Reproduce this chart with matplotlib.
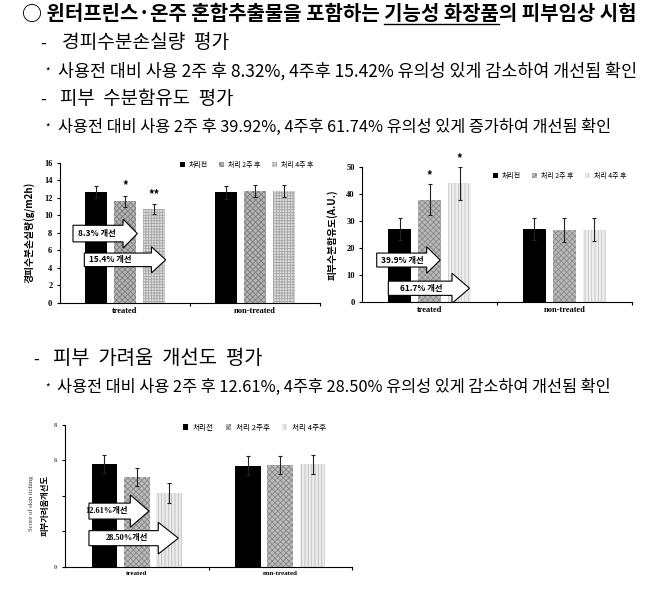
import matplotlib
matplotlib.use("Agg")
import matplotlib.pyplot as plt
from matplotlib.patches import Patch

plt.rcParams['font.family'] = ['Noto Sans CJK KR', 'DejaVu Sans']
plt.rcParams['hatch.linewidth'] = 0.6

# ---- data ----
categories = ['treated', 'non-treated']
series_labels = ['처리전', '처리 2주 후', '처리 4주 후']
series_labels_itch = ['처리전', '처리 2주후', '처리 4주후']

# transepidermal water loss (g/m2h)
tewl_before = [12.65, 12.60]
tewl_before_err = [0.65, 0.70]
tewl_2w = [11.60, 12.75]
tewl_2w_err = [0.65, 0.70]
tewl_4w = [10.70, 12.75]
tewl_4w_err = [0.55, 0.65]
tewl_stars = ['', '*', '**']
tewl_notes = ['8.3% 개선', '15.4% 개선']

# skin moisture (A.U.)
moist_before = [27.1, 27.1]
moist_before_err = [4.1, 4.2]
moist_2w = [38.0, 26.8]
moist_2w_err = [5.7, 4.5]
moist_4w = [44.0, 26.8]
moist_4w_err = [6.0, 4.3]
moist_stars = ['', '*', '*']
moist_notes = ['39.9% 개선', '61.7% 개선']

# skin itching score
itch_before = [5.80, 5.70]
itch_before_err = [0.50, 0.55]
itch_2w = [5.06, 5.75]
itch_2w_err = [0.50, 0.50]
itch_4w = [4.15, 5.78]
itch_4w_err = [0.55, 0.52]
itch_notes = ['12.61%개선', '28.50%개선']

title = '○ 윈터프린스·온주 혼합추출물을 포함하는 기능성 화장품의 피부임상 시험'
title_prefix = '○ 윈터프린스·온주 혼합추출물을 포함하는 '
title_under = '기능성 화장품'
heading_tewl = '경피수분손실량  평가'
note_tewl = '사용전 대비 사용 2주 후 8.32%, 4주후 15.42% 유의성 있게 감소하여 개선됨 확인'
heading_moist = '피부  수분함유도  평가'
note_moist = '사용전 대비 사용 2주 후 39.92%, 4주후 61.74% 유의성 있게 증가하여 개선됨 확인'
heading_itch = '피부  가려움  개선도  평가'
note_itch = '사용전 대비 사용 2주 후 12.61%, 4주후 28.50% 유의성 있게 감소하여 개선됨 확인'

W, H = 658, 590
fig = plt.figure(figsize=(W / 100, H / 100), dpi=100)
renderer = fig.canvas.get_renderer()


def text_width(s, **kw):
    t = fig.text(0, 0, s, **kw)
    w = t.get_window_extent(renderer).width
    t.remove()
    return w


def fit_line(x0, x1, y, s, **kw):
    """put a text line so it spans x0..x1 pixels"""
    size = 10 * (x1 - x0) / text_width(s, fontsize=10, **kw)
    fig.text(x0 / W, 1 - y / H, s, fontsize=size, va='center', ha='left', **kw)
    return size


def add_ax(left, top, right, bottom):
    return fig.add_axes([left / W, 1 - bottom / H, (right - left) / W, (bottom - top) / H])


# ---- header text ----
tsize = fit_line(22, 636, 14, title, fontweight='bold')
w_all = text_width(title_prefix + title_under, fontsize=tsize, fontweight='bold')
w_under = text_width(title_under, fontsize=tsize, fontweight='bold')
u0 = 22 + w_all - w_under
fig.add_artist(plt.Line2D([u0 / W, (22 + w_all) / W], [1 - 24 / H] * 2, color='black', lw=1.0))

for dash_x, x0, x1, y, s in [(40, 62, 229, 43, heading_tewl),
                             (40, 60, 233, 99, heading_moist),
                             (33, 53, 262, 359, heading_itch)]:
    fig.text(dash_x / W, 1 - y / H, '-', fontsize=12, va='center', ha='left')
    fit_line(x0, x1, y, s, fontweight='medium')

for x0, x1, y, s in [(58, 636, 71, note_tewl),
                     (58, 612, 127, note_moist),
                     (57, 612, 387, note_itch)]:
    fig.text(45 / W, 1 - (y + 1) / H, '*', fontsize=7, va='center', ha='left')
    fit_line(x0, x1, y, s)


# ---- bar charts ----
serif = ['Liberation Serif', 'Noto Sans CJK KR']


def bar_chart(ax, series, errs, styles, ymax, yticks, ytick_labels, labels,
              bar_w, step, legend_anchor, legend_size):
    xs = [0.5, 1.5]
    for i, (vals, err, (fc, hc, hatch)) in enumerate(zip(series, errs, styles)):
        pos = [x + (i - 1) * step for x in xs]
        ax.bar(pos, vals, width=bar_w, color=fc, edgecolor=hc, linewidth=0,
               hatch=hatch, zorder=2)
        ax.errorbar(pos, vals, yerr=err, fmt='none', ecolor='#222222',
                    elinewidth=0.8, capsize=1.6, capthick=0.8, zorder=3)
    ax.set_xlim(0, 2)
    ax.set_ylim(0, ymax)
    ax.spines[['top', 'right']].set_visible(False)
    ax.spines[['left', 'bottom']].set_linewidth(0.8)
    ax.set_yticks(yticks, ytick_labels)
    ax.set_xticks(xs, categories)
    ax.set_xticks([1, 2], minor=True)
    ax.tick_params(axis='x', which='major', length=0, pad=3)
    ax.tick_params(axis='x', which='minor', length=2.5, width=0.8)
    ax.tick_params(axis='y', length=2.5, width=0.8, pad=3)
    for lab in ax.get_xticklabels() + ax.get_yticklabels():
        lab.set_fontfamily(serif)
        lab.set_fontweight('bold')
        lab.set_fontsize(6)
    handles = [Patch(facecolor=fc, edgecolor=hc, linewidth=0, hatch=h) for fc, hc, h in styles]
    ax.legend(handles, labels, loc='upper right', bbox_to_anchor=legend_anchor,
              ncol=3, frameon=False, fontsize=legend_size, handlelength=0.7,
              handleheight=0.7, handletextpad=0.6, columnspacing=1.6,
              borderaxespad=0)


def improvement_arrow(ax, x0, x1, yc, body, head, head_len, label, text_x, **kw):
    ax.arrow(x0, yc, x1 - x0, 0, width=body, head_width=head, head_length=head_len,
             length_includes_head=True, fc='white', ec='black', lw=0.8, zorder=5)
    ax.text(text_x, yc, label, ha='center', va='center', fontsize=6,
            fontweight='bold', zorder=6, **kw)


# chart 1: TEWL
ax1 = add_ax(60, 162.7, 320, 302.7)
styles1 = [('black', 'black', None), ('#b5b5b5', '#7c7c7c', 'xxxxxx'),
           ('#dedede', '#a6a6a6', '++++++')]
bar_chart(ax1, [tewl_before, tewl_2w, tewl_4w], [tewl_before_err, tewl_2w_err, tewl_4w_err],
          styles1, 16, range(0, 17, 2), [str(v) for v in range(0, 17, 2)],
          series_labels, 0.17, 0.223, (0.985, 1.03), 5)
for i, (vals, err) in enumerate([(tewl_2w, tewl_2w_err), (tewl_4w, tewl_4w_err)]):
    ax1.text(0.5 + i * 0.223, vals[0] + err[0] + 0.35, tewl_stars[i + 1], ha='center',
             va='bottom', fontsize=8, fontweight='bold')
improvement_arrow(ax1, 0.10, 0.595, 7.9, 1.9, 3.3, 0.11, tewl_notes[0], 0.28)
improvement_arrow(ax1, 0.187, 0.813, 4.9, 1.55, 3.0, 0.11, tewl_notes[1], 0.385)
ax1.set_ylabel('경피수분손실량(g/m2h)', fontsize=7, fontweight='bold', labelpad=6)

# chart 2: moisture
ax2 = add_ax(362.3, 167.3, 631.7, 301.7)
styles2 = [('black', 'black', None), ('#b9b9b9', '#8a8a8a', 'xxxxxx'),
           ('#eeeeee', '#c4c4c4', '|||||')]
bar_chart(ax2, [moist_before, moist_2w, moist_4w], [moist_before_err, moist_2w_err, moist_4w_err],
          styles2, 50, range(0, 51, 10), [str(v) for v in range(0, 51, 10)],
          series_labels, 0.17, 0.222, (0.99, 0.985), 5)
for i, (vals, err) in enumerate([(moist_2w, moist_2w_err), (moist_4w, moist_4w_err)]):
    ax2.text(0.5 + i * 0.222, vals[0] + err[0] + 0.8, moist_stars[i + 1], ha='center',
             va='bottom', fontsize=8, fontweight='bold', clip_on=False)
improvement_arrow(ax2, 0.107, 0.578, 15.5, 5.2, 9.9, 0.10, moist_notes[0], 0.30)
improvement_arrow(ax2, 0.193, 0.796, 5.0, 5.3, 11.2, 0.13, moist_notes[1], 0.44)
ax2.set_ylabel('피부수분함유도(A.U.)', fontsize=7, fontweight='bold', labelpad=6)

# chart 3: itching
ax3 = add_ax(65, 425, 352, 566.7)
styles3 = [('black', 'black', None), ('#bdbdbd', '#858585', 'xxxxxx'),
           ('#ebebeb', '#bdbdbd', '|||||')]
bar_chart(ax3, [itch_before, itch_2w, itch_4w], [itch_before_err, itch_2w_err, itch_4w_err],
          styles3, 8, [0, 2, 4, 6, 8], ['0', '', '', '6', '8'],
          series_labels_itch, 0.178, 0.225, (0.92, 1.03), 5.5)
for lab in ax3.get_yticklabels():
    lab.set_fontsize(4.5)
    lab.set_color('#555555')
for lab in ax3.get_xticklabels():
    lab.set_fontsize(5)
improvement_arrow(ax3, 0.167, 0.585, 3.14, 0.9, 1.83, 0.13, itch_notes[0], 0.29,
                  family=serif)
improvement_arrow(ax3, 0.167, 0.79, 1.61, 0.85, 1.79, 0.14, itch_notes[1], 0.43,
                  family=serif)
fig.text(31 / W, 1 - 503 / H, 'Score of skin itching', rotation=90, ha='center',
         va='center', fontsize=4.8, family=serif, color='#333333')
fig.text(45 / W, 1 - 505 / H, '피부가려움개선도', rotation=90, ha='center',
         va='center', fontsize=6, fontweight='bold')

fig.savefig('out.png', dpi=100, facecolor='white')
